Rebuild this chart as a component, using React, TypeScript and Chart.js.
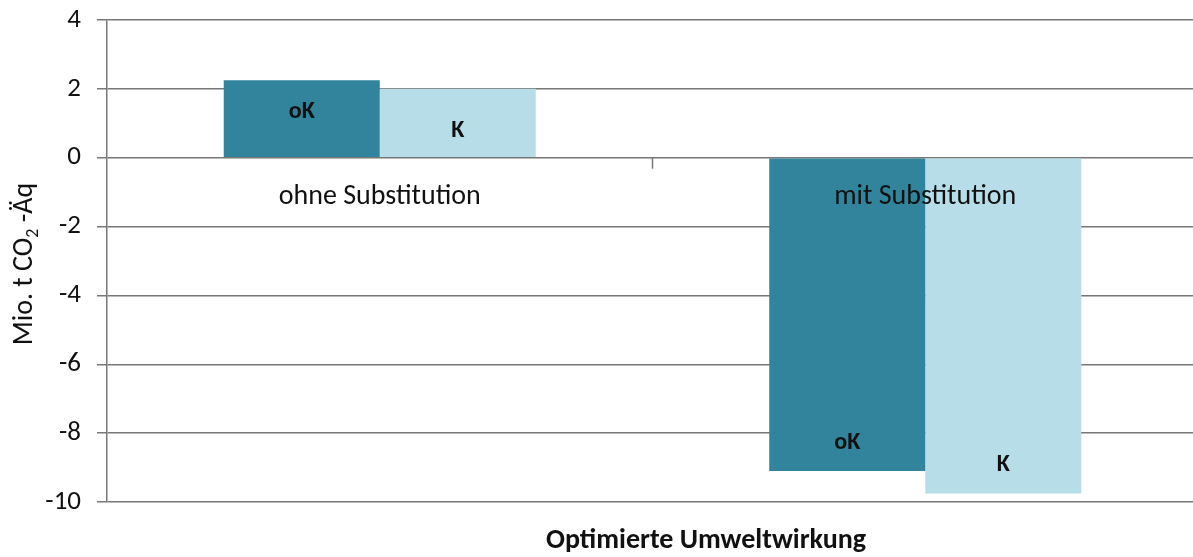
import React, { useEffect, useRef } from "react";
import { Chart, registerables } from "chart.js";

Chart.register(...registerables);

// ---- Data ----
const categories = ["ohne Substitution", "mit Substitution"];
const seriesNames = ["oK", "K"];
const valuesOK = [2.25, -9.1];
const valuesK = [2.0, -9.75];
const yTickMin = -10;
const yTickMax = 4;
const yTickStep = 2;
const yAxisTitleMain = "Mio. t CO";
const yAxisTitleSub = "2";
const yAxisTitleEnd = " -Äq";
const xAxisTitle = "Optimierte Umweltwirkung";

const FONT = "Carlito, Lato, 'Open Sans', sans-serif";
const TEXT = "#111111";
const GRID = "#777777";

const overlayPlugin = {
  id: "overlay",
  afterDatasetsDraw(chart: any) {
    const ctx = chart.ctx;
    const xs = chart.scales.x;
    const ys = chart.scales.y;
    const y0 = ys.getPixelForValue(0);
    ctx.save();
    // tick mark at the category boundary on the zero line
    const xb = (xs.getPixelForValue(0) + xs.getPixelForValue(1)) / 2;
    ctx.strokeStyle = GRID;
    ctx.lineWidth = 1.5;
    ctx.beginPath();
    ctx.moveTo(xb, y0);
    ctx.lineTo(xb, y0 + 11);
    ctx.stroke();

    // bar labels
    const offsets = [
      { pos: 32, neg: 28 },
      { pos: 42, neg: 28 },
    ];
    ctx.font = `bold 24px ${FONT}`;
    ctx.fillStyle = TEXT;
    ctx.textAlign = "center";
    ctx.textBaseline = "middle";
    chart.data.datasets.forEach((ds: any, di: number) => {
      const meta = chart.getDatasetMeta(di);
      meta.data.forEach((bar: any, i: number) => {
        const v = ds.data[i];
        const y = v >= 0 ? bar.y + offsets[di].pos : bar.y - offsets[di].neg;
        ctx.fillText(ds.label, bar.x, y);
      });
    });

    // category labels next to the zero line
    ctx.font = `28px ${FONT}`;
    categories.forEach((c, i) => {
      ctx.fillText(c, xs.getPixelForValue(i), y0 + 39);
    });
    ctx.restore();
  },
  afterDraw(chart: any) {
    const ctx = chart.ctx;
    ctx.save();
    ctx.fillStyle = TEXT;
    // x axis title
    ctx.font = `bold 28px ${FONT}`;
    ctx.textAlign = "center";
    ctx.textBaseline = "middle";
    ctx.fillText(xAxisTitle, 706, 541);

    // y axis title (rotated) with subscript
    ctx.translate(25, 264);
    ctx.rotate(-Math.PI / 2);
    const mainFont = `28px ${FONT}`;
    const subFont = `18px ${FONT}`;
    ctx.font = mainFont;
    const w1 = ctx.measureText(yAxisTitleMain).width;
    const w3 = ctx.measureText(yAxisTitleEnd).width;
    ctx.font = subFont;
    const w2 = ctx.measureText(yAxisTitleSub).width;
    const total = w1 + w2 + w3;
    let x = -total / 2;
    ctx.textAlign = "left";
    ctx.textBaseline = "middle";
    ctx.font = mainFont;
    ctx.fillText(yAxisTitleMain, x, 0);
    x += w1;
    ctx.font = subFont;
    ctx.fillText(yAxisTitleSub, x, 8);
    x += w2;
    ctx.font = mainFont;
    ctx.fillText(yAxisTitleEnd, x, 0);
    ctx.restore();
  },
};

export default function App() {
  const ref = useRef<HTMLCanvasElement | null>(null);
  useEffect(() => {
    if (!ref.current) return;
    const chart = new Chart(ref.current, {
      type: "bar",
      data: {
        labels: categories,
        datasets: [
          {
            label: seriesNames[0],
            data: valuesOK,
            backgroundColor: "#31849B",
            categoryPercentage: 0.572,
            barPercentage: 1,
          },
          {
            label: seriesNames[1],
            data: valuesK,
            backgroundColor: "#B7DEE8",
            categoryPercentage: 0.572,
            barPercentage: 1,
          },
        ],
      },
      options: {
        responsive: false,
        animation: false,
        layout: { padding: { top: 20, right: 0, bottom: 55, left: 0 } },
        plugins: {
          legend: { display: false },
          tooltip: { enabled: false },
          title: { display: false },
        },
        scales: {
          x: {
            display: false,
            grid: { display: false },
          },
          y: {
            min: yTickMin,
            max: yTickMax,
            afterFit: (s: any) => {
              s.width = 107;
              s.paddingTop = 0;
              s.paddingBottom = 0;
            },
            ticks: {
              stepSize: yTickStep,
              padding: 16,
              color: TEXT,
              font: { family: FONT, size: 27 },
            },
            grid: {
              color: GRID,
              lineWidth: 1.5,
              tickLength: 10,
              drawTicks: true,
            },
            border: { display: true, color: GRID, width: 1.5 },
          },
        },
      },
      plugins: [overlayPlugin],
    });
    return () => chart.destroy();
  }, []);
  return (
    <div
      style={{
        position: "absolute",
        left: 0,
        top: 0,
        width: 1193,
        height: 557,
        overflow: "hidden",
        background: "#fff",
      }}
    >
      <canvas ref={ref} width={1198} height={557} />
    </div>
  );
}
